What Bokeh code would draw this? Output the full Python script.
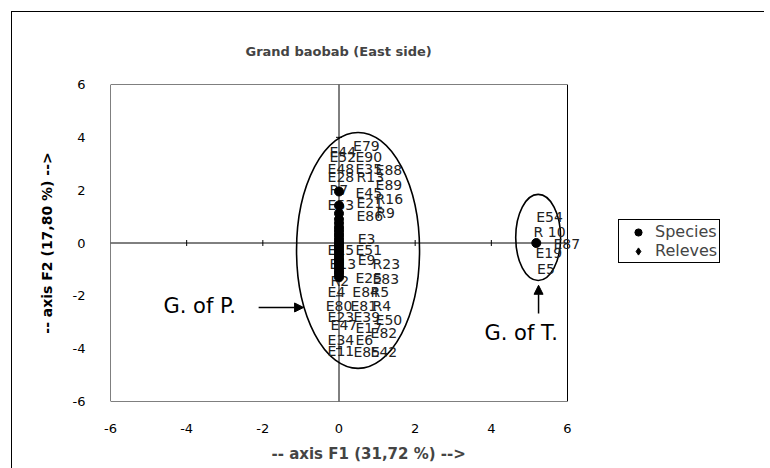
import math
from bokeh.plotting import figure
from bokeh.models import (ColumnDataSource, Arrow, NormalHead, Label,
                          Legend, LegendItem, FixedTicker, Title)
from bokeh.core.properties import value
from bokeh.embed import file_html
from bokeh.resources import INLINE

# ---------------- data ----------------
chart_title = "Grand baobab (East side)"
x_title = "-- axis F1 (31,72 %) -->"
y_title = "-- axis F2 (17,80 %) -->"
tick_values = [-6, -4, -2, 0, 2, 4, 6]
tick_labels = ["-6", "-4", "-2", "0", "2", "4", "6"]

species_x = [0, 0, 0, 0, 0, 0, 0, 0, 0, 0, 0, 0, 0, 0, 0, 0, 0, 0, 0, 0,
             0, 0, 0, 0, 0, 0, 0, 0, 5.18]
species_y = [1.95, 1.42, 1.12, 0.9, 0.75, 0.6, 0.5, 0.4, 0.3, 0.2, 0.1, 0.02,
             -0.05, -0.12, -0.2, -0.28, -0.35, -0.45, -0.55, -0.62, -0.7,
             -0.78, -0.85, -0.95, -1.05, -1.12, -1.2, -1.3, 0.0]

releve_names = ["E79", "E44", "E52", "E90", "E48", "E35", "E88", "E28", "R13",
                "E89", "R7", "E45", "R16", "E53", "E21", "E86", "R9", "E3",
                "E15", "E51", "E13", "E9", "R23", "R2", "E25", "E83", "E4",
                "E84", "R5", "E80", "E81", "R4", "E23", "E39", "E50", "E47",
                "E17", "E82", "E34", "E6", "E11", "E85", "E42",
                "E54", "R 10", "E87", "E19", "E5"]
releve_x = [0.37, -0.25, -0.25, 0.43, -0.30, 0.43, 0.96, -0.30, 0.46,
            0.96, -0.25, 0.43, 0.96, -0.30, 0.46, 0.46, 0.98, 0.49,
            -0.30, 0.43, -0.25, 0.49, 0.88, -0.22, 0.43, 0.88, -0.30,
            0.35, 0.83, -0.35, 0.30, 0.88, -0.30, 0.38, 0.96, -0.22,
            0.43, 0.83, -0.30, 0.43, -0.30, 0.38, 0.83,
            5.18, 5.11, 5.63, 5.16, 5.20]
releve_y = [3.69, 3.43, 3.24, 3.27, 2.82, 2.82, 2.78, 2.48, 2.48,
            2.18, 2.02, 1.91, 1.68, 1.42, 1.53, 1.04, 1.15, 0.17,
            -0.28, -0.28, -0.78, -0.66, -0.81, -1.42, -1.34, -1.38, -1.87,
            -1.87, -1.87, -2.37, -2.37, -2.37, -2.82, -2.82, -2.90, -3.12,
            -3.20, -3.39, -3.69, -3.69, -4.07, -4.14, -4.14,
            0.98, 0.41, -0.02, -0.39, -0.97]

group_names = ["G. of P.", "G. of T."]
group_cx = [0.5, 5.23]
group_cy = [-0.28, 0.21]
group_w = [3.23, 1.18]
group_h = [8.93, 3.26]

FONT = "DejaVu Sans"

# ---------------- geometry ----------------
AREA_W = 457          # plot-area width in px (x from -6 to 6)
FRAME_W = 650         # frame extended to the right to hold the legend
lo, hi = min(tick_values), max(tick_values)
px_per_unit = AREA_W / (hi - lo)
x_end = lo + FRAME_W / px_per_unit

p = figure(output_backend="svg", toolbar_location=None,
           frame_width=FRAME_W, frame_height=317,
           x_range=(lo, x_end), y_range=(lo, hi),
           min_border_left=98, min_border_top=72, min_border_right=4,
           min_border_bottom=10)
p.margin = (11, 0, 0, 11)
p.styles = {"border-top": "1px solid black", "border-left": "1px solid black"}
p.background_fill_color = "white"
p.border_fill_color = "white"
p.outline_line_color = None
p.grid.visible = False

p.title = Title(text=chart_title, align="left", offset=135,
                text_font=FONT, text_font_size="13px", text_font_style="bold",
                standoff=51)

for ax in (p.xaxis[0], p.yaxis[0]):
    ax.ticker = FixedTicker(ticks=tick_values)
    ax.major_label_overrides = {float(v): t for v, t in zip(tick_values, tick_labels)}
    ax.axis_line_color = None
    ax.major_tick_line_color = None
    ax.minor_tick_line_color = None
    ax.major_label_text_font = FONT
    ax.major_label_text_font_size = "13px"
    ax.major_label_text_color = "black"
p.xaxis.major_label_standoff = 16
p.yaxis.major_label_standoff = 19
p.yaxis.axis_label = y_title
p.yaxis.axis_label_text_font = FONT
p.yaxis.axis_label_text_font_size = "14px"
p.yaxis.axis_label_text_font_style = "bold"
p.yaxis.axis_label_text_color = "black"
p.yaxis.axis_label_standoff = 15

p.add_layout(Title(text=x_title, align="left", offset=161, standoff=14,
                   text_font=FONT, text_font_size="15px",
                   text_font_style="bold"), "below")

# plot-area border and zero lines
p.quad(left=[lo], right=[hi], bottom=[lo], top=[hi], fill_color=None,
       line_color="black", line_width=1)
p.segment(x0=[lo, 0], y0=[0, lo], x1=[hi, 0], y1=[0, hi],
          line_color="black", line_width=1)
nz = [v for v in tick_values if v not in (0, lo, hi)]
p.scatter(x=nz, y=[0] * len(nz), marker="dash", angle=math.pi / 2, size=6,
          line_color="black")
p.scatter(x=[0] * len(nz), y=nz, marker="dash", size=6, line_color="black")

# group ellipses
p.ellipse(x=group_cx, y=group_cy, width=group_w, height=group_h,
          fill_color=None, line_color="black", line_width=1.6)

# releve labels (markers hidden, as in the original)
rsrc = ColumnDataSource(dict(x=releve_x, y=releve_y, name=releve_names))
p.text(x="x", y="y", text="name", source=rsrc, text_font=value(FONT),
       text_font_size="14px", text_align="left", text_baseline="middle",
       text_color="#222222")
releve_legend = p.scatter(x=[float("nan")], y=[float("nan")], marker="diamond",
                          size=10, fill_color="black", line_color="black")

# species points
ssrc = ColumnDataSource(dict(x=species_x, y=species_y))
species_r = p.scatter(x="x", y="y", source=ssrc, marker="circle", size=9,
                      fill_color="black", line_color="black")

# arrows + group labels
head = dict(size=9, fill_color="black", line_color="black")
p.add_layout(Arrow(end=NormalHead(**head), x_start=-2.11, y_start=-2.44,
                   x_end=-0.93, y_end=-2.44, line_width=1.5, line_color="black"))
p.add_layout(Arrow(end=NormalHead(**head), x_start=5.24, y_start=-2.67,
                   x_end=5.24, y_end=-1.6, line_width=1.5, line_color="black"))
p.add_layout(Label(x=-4.61, y=-2.37, text=group_names[0], text_font=FONT,
                   text_font_size="21px", text_baseline="middle",
                   text_color="black"))
p.add_layout(Label(x=3.82, y=-3.39, text=group_names[1], text_font=FONT,
                   text_font_size="21px", text_baseline="middle",
                   text_color="black"))

legend = Legend(items=[LegendItem(label="Species", renderers=[species_r]),
                       LegendItem(label="Releves", renderers=[releve_legend])],
                location=(508, 138), margin=0, padding=2, spacing=0,
                label_standoff=0, glyph_width=34, glyph_height=18,
                label_height=17,
                label_text_font=FONT, label_text_font_size="16px",
                border_line_color="black", border_line_width=1,
                border_line_alpha=1.0, background_fill_color="white",
                background_fill_alpha=1.0)
p.add_layout(legend, "center")

open("out.html", "w").write(file_html(p, INLINE))
